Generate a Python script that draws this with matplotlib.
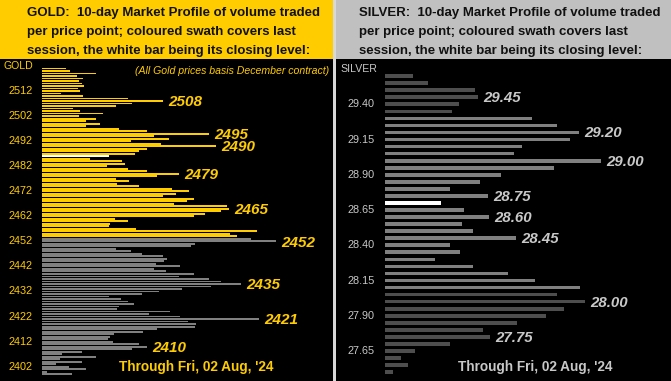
import matplotlib
matplotlib.use("Agg")
import matplotlib.pyplot as plt  # noqa: E402
import numpy as np  # noqa: E402

# ---------------------------------------------------------------------------
# data: volume per price point (arbitrary units), top price first
# ---------------------------------------------------------------------------
gold_top, gold_bottom = 2521, 2399
gold_volume = [
    24, 28, 54, 35, 41, 37, 40, 42, 36, 38,          # 2521-2512
    19, 41, 86, 121, 90, 74, 31, 38, 61, 37,         # 2511-2502
    54, 44, 58, 44, 77, 105, 167, 112, 127, 89,      # 2501-2492
    119, 174, 105, 97, 93, 67, 48, 80, 83, 65,       # 2491-2482
    86, 105, 137, 115, 74, 87, 75, 97, 130, 147,     # 2481-2472
    134, 121, 152, 145, 132, 185, 187, 179, 163, 152,  # 2471-2462
    73, 86, 68, 67, 94, 215, 188, 195, 209, 234,     # 2461-2452
    153, 149, 74, 89, 100, 121, 125, 122, 114, 138,  # 2451-2442
    112, 124, 152, 137, 167, 179, 199, 169, 140, 117,  # 2441-2432
    100, 67, 79, 86, 92, 77, 75, 128, 107, 138,      # 2431-2422
    217, 146, 154, 153, 115, 101, 72, 68, 66, 71,    # 2421-2412
    97, 105, 90, 40, 20, 54, 18, 40, 14, 27,         # 2411-2402
    44, 5, 30,                                       # 2401-2399
]
gold_session = (2454, 2521)
gold_close = 2486
gold_ticks = [2512, 2502, 2492, 2482, 2472, 2462, 2452, 2442, 2432, 2422,
              2412, 2402]
gold_labels = [2508, 2495, 2490, 2479, 2465, 2452, 2435, 2421, 2410]

silver_prices = [
    29.60, 29.55, 29.50, 29.45, 29.40, 29.35, 29.30, 29.25, 29.20, 29.15,
    29.10, 29.05, 29.00, 28.95, 28.90, 28.85, 28.80, 28.75, 28.70, 28.65,
    28.60, 28.55, 28.50, 28.45, 28.40, 28.35, 28.30, 28.25, 28.20, 28.15,
    28.10, 28.05, 28.00, 27.95, 27.90, 27.85, 27.80, 27.75, 27.70, 27.65,
    27.60, 27.55, 27.50,
]
silver_volume = [
    28, 43, 90, 93, 74, 67, 147, 172, 194, 185,
    137, 129, 216, 169, 116, 95, 65, 103, 56, 79,
    104, 77, 88, 131, 65, 75, 50, 88, 123, 150,
    195, 172, 200, 179, 161, 132, 98, 105, 65, 30,
    16, 23, 8,
]
silver_session = (28.10, 29.30)
silver_close = 28.70
silver_ticks = [29.40, 29.15, 28.90, 28.65, 28.40, 28.15, 27.90, 27.65]
silver_labels = [29.45, 29.20, 29.00, 28.75, 28.60, 28.45, 28.00, 27.75]

header_lines = ["10-day Market Profile of volume traded",
                "per price point; coloured swath covers last",
                "session, the white bar being its closing level:"]
footer = "Through Fri, 02 Aug, '24"

# ---------------------------------------------------------------------------
W, H = 671, 381
GOLD = "#ffcc00"
GREY = "#808080"
DARK = "#4e4e4e"
SILV_TXT = "#c8c8c8"
plt.rcParams["font.family"] = ["Liberation Sans", "DejaVu Sans"]

fig = plt.figure(figsize=(W / 100, H / 100), dpi=100, facecolor="#d8d8d8")


def px_axes(x0, y0, x1, y1, color):
    ax = fig.add_axes([x0 / W, 1 - y1 / H, (x1 - x0) / W, (y1 - y0) / H])
    ax.set_facecolor(color)
    ax.set_xticks([])
    ax.set_yticks([])
    for s in ax.spines.values():
        s.set_visible(False)
    return ax


def header(x0, x1, color, name, text_x):
    ax = px_axes(x0, 0, x1, 59, color)
    ax.set_xlim(x0, x1)
    ax.set_ylim(59, 0)
    first = [name + ":  " + header_lines[0]] + header_lines[1:]
    for line, base in zip(first, (15.8, 35.0, 54.0)):
        ax.text(text_x, base, line, fontsize=9.5, fontweight="bold",
                color="#111111", va="baseline", ha="left")


# --- gold panel ---
header(0, 333, GOLD, "GOLD", 27)
ax = px_axes(0, 59, 333, 381, "black")
ax.set_xlim(-42, 291)
ax.set_ylim(2512 - (381 - 91) / 2.506, 2512 + (91 - 59) / 2.506)
prices = np.arange(gold_top, gold_bottom - 1, -1)
vols = np.array(gold_volume)
cols = [("white" if p == gold_close else
         GOLD if gold_session[0] <= p <= gold_session[1] else GREY)
        for p in prices]
ax.barh(prices, vols, height=0.75, left=0, color=cols, linewidth=0)
for t in gold_ticks:
    ax.text(-9, t, str(t), ha="right", va="center", fontsize=7.8, color=GOLD)
ax.text(-38, 2521.9, "GOLD", ha="left", va="center", fontsize=7.6,
        color=GOLD)
ax.text(287, 2520, "(All Gold prices basis December contract)",
        ha="right", va="center", fontsize=7.6, style="italic", color=GOLD)
for p in gold_labels:
    v = vols[list(prices).index(p)]
    ax.text(v + 5, p - 0.5, str(p), ha="left", va="center", fontsize=11,
            fontweight="bold", style="italic", color=GOLD)
ax.text(154.5, 2401.8, footer, ha="center", va="center", fontsize=9.8,
        fontweight="bold", color=GOLD)

# --- silver panel ---
header(336, 671, "#c0c0c0", "SILVER", 358.7)
ax = px_axes(336, 59, 671, 381, "black")
ax.set_xlim(-49, 286)
k = 140.97
ax.set_ylim(27.65 - (381 - 351) / k, 29.40 + (104.3 - 59) / k)
sp = np.array(silver_prices)
sv = np.array(silver_volume)
cols = [("white" if abs(p - silver_close) < 1e-6 else
         GREY if silver_session[0] - 1e-6 <= p <= silver_session[1] + 1e-6
         else DARK) for p in sp]
ax.barh(sp, sv, height=0.026, left=0, color=cols, linewidth=0)
for t in silver_ticks:
    ax.text(-10, t, f"{t:.2f}", ha="right", va="center", fontsize=7.8,
            color=SILV_TXT)
ax.text(-45, 29.40 + (104.3 - 69.3) / k, "SILVER", ha="left", va="center",
        fontsize=7.6, color=SILV_TXT)
for p in silver_labels:
    v = sv[int(np.argmin(np.abs(sp - p)))]
    ax.text(v + 5, p - 0.006, f"{p:.2f}", ha="left", va="center",
            fontsize=10.8, fontweight="bold", style="italic",
            color=SILV_TXT)
ax.text(150.5, 27.65 - (366.7 - 351) / k, footer, ha="center", va="center",
        fontsize=9.8, fontweight="bold", color=SILV_TXT)

fig.savefig("out.png", dpi=100, facecolor=fig.get_facecolor())
